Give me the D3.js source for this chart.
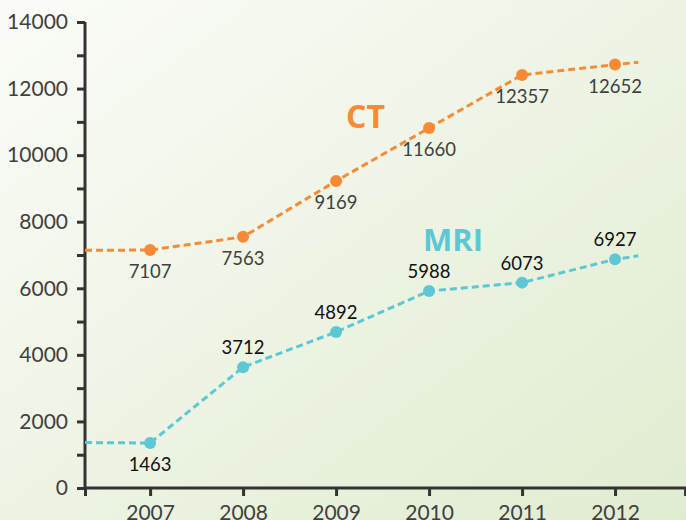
<!DOCTYPE html>
<html>
<head>
<meta charset="utf-8">
<script src="https://cdn.jsdelivr.net/npm/d3@7"></script>
<style>
  body { margin: 0; }
  svg { display: block; font-family: Lato, "Open Sans", sans-serif; }
  .axis path, .axis line { stroke: #333; stroke-width: 3; }
  .axis text { fill: #404040; font-size: 21px; font-family: Lato, sans-serif; }
</style>
</head>
<body>
<svg width="686" height="520"></svg>
<script>
// data
const years = [2007, 2008, 2009, 2010, 2011, 2012];
const ctValues = [7150, 7545, 9223, 10815, 12408, 12720];
const ctLabels = ["7107", "7563", "9169", "11660", "12357", "12652"];
const mriValues = [1352, 3630, 4687, 5918, 6170, 6870];
const mriLabels = ["1463", "3712", "4892", "5988", "6073", "6927"];
// line run-in / run-out (year, value)
const ctEnds = [[2006.3, 7140], [2012.25, 12790]];
const mriEnds = [[2006.3, 1365], [2012.25, 6975]];
const yTicks = d3.range(0, 14001, 1000);

let svg = d3.select("svg");

// background gradient
let grad = svg.append("defs").append("linearGradient")
    .attr("id", "bg").attr("x1", "0").attr("y1", "0").attr("x2", "1").attr("y2", "1");
grad.append("stop").attr("offset", "0").attr("stop-color", "#fbfcf8");
grad.append("stop").attr("offset", "1").attr("stop-color", "#e0ecd0");
svg.append("rect").attr("width", 686).attr("height", 520).attr("fill", "url(#bg)");

const x = d3.scaleLinear().domain([2006.3, 2012.763]).range([85, 686]);
const y = d3.scaleLinear().domain([0, 14000]).range([488, 22]);

// axes
let yAxis = svg.append("g").attr("class", "axis")
    .attr("transform", "translate(85,0)")
    .call(d3.axisLeft(y).tickValues(yTicks).tickSize(8).tickPadding(9)
        .tickFormat(d => d % 2000 === 0 ? d : ""));
yAxis.select(".domain").attr("d", "M0," + y(14000) + "V" + y(0));

let xAxis = svg.append("g").attr("class", "axis")
    .attr("transform", "translate(0,488)")
    .call(d3.axisBottom(x).tickValues([x.domain()[0]].concat(years, [x.domain()[1] - 0.01]))
        .tickSize(8).tickPadding(9)
        .tickFormat(d => years.includes(d) ? d : ""));
xAxis.select(".domain").attr("d", "M85,0H686");

const line = d3.line().x(d => x(d[0])).y(d => y(d[1]));

function drawSeries(values, labels, ends, color, labelColor, above) {
    let pts = [ends[0]].concat(years.map((yr, i) => [yr, values[i]]), [ends[1]]);
    let g = svg.append("g");
    g.append("path")
        .attr("d", line(pts))
        .attr("fill", "none")
        .attr("stroke", color)
        .attr("stroke-width", 3)
        .attr("stroke-dasharray", "7,4");
    g.selectAll("circle").data(values).enter().append("circle")
        .attr("cx", (d, i) => x(years[i]))
        .attr("cy", d => y(d))
        .attr("r", 6)
        .attr("fill", color);
    g.selectAll("text").data(labels).enter().append("text")
        .attr("x", (d, i) => x(years[i]))
        .attr("y", (d, i) => y(values[i]) + (above[i] ? -13 : 28))
        .attr("text-anchor", "middle")
        .attr("font-size", "18.5px")
        .attr("fill", labelColor)
        .text(d => d);
}

drawSeries(ctValues, ctLabels, ctEnds, "#f68a35", "#404040", [false, false, false, false, false, false]);
drawSeries(mriValues, mriLabels, mriEnds, "#5cc8d5", "#111", [false, true, true, true, true, true]);

// series names
svg.append("text").attr("x", 346).attr("y", 128)
    .attr("font-family", "'Open Sans', sans-serif")
    .attr("font-size", "32px").attr("font-weight", "bold").attr("fill", "#f68a35").text("CT");
svg.append("text").attr("x", 423).attr("y", 251)
    .attr("font-family", "'Open Sans', sans-serif")
    .attr("font-size", "31px").attr("font-weight", "bold").attr("fill", "#5cc8d5").text("MRI");
</script>
</body>
</html>
